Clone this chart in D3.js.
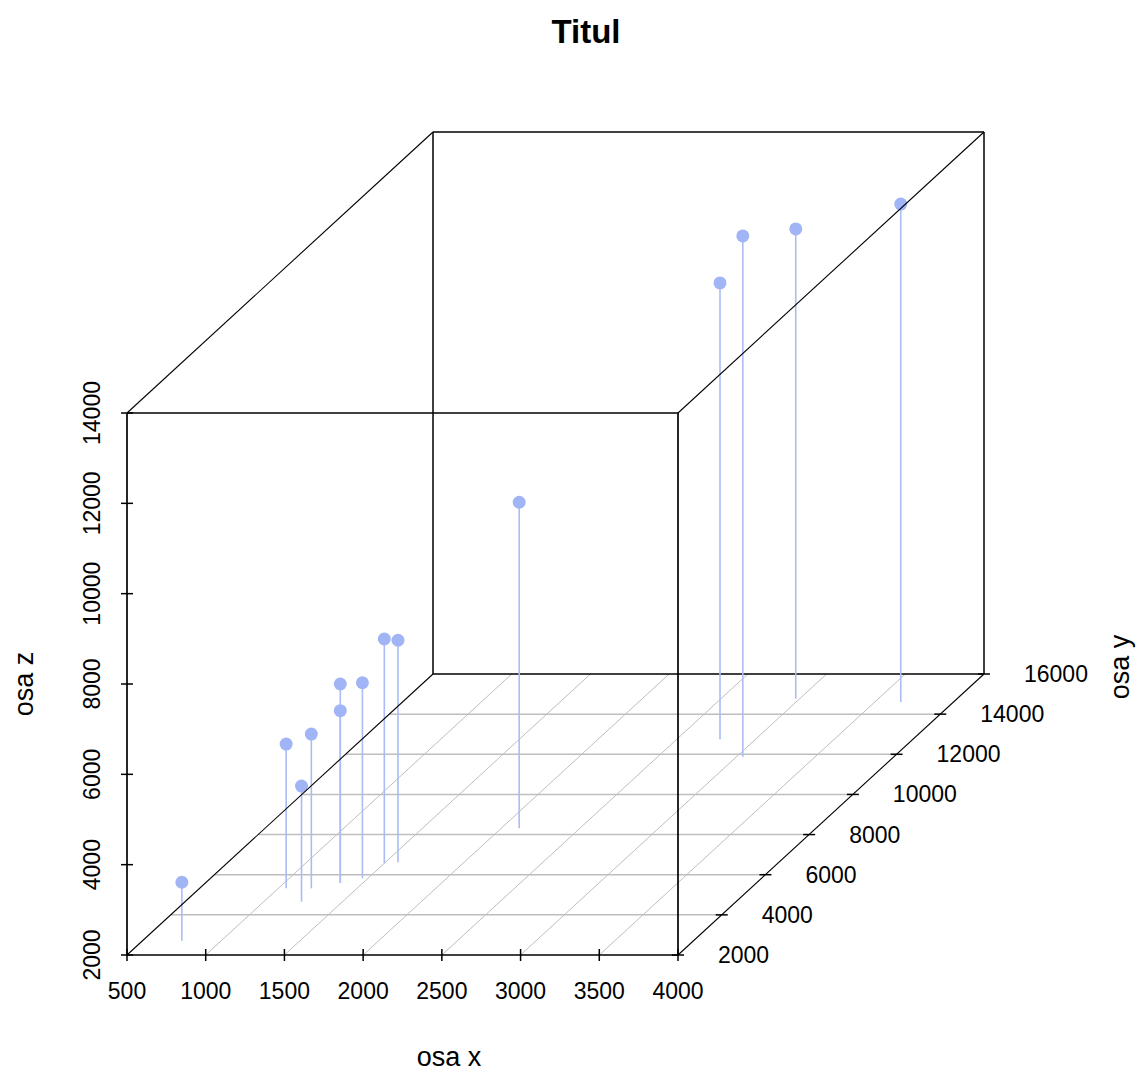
<!DOCTYPE html>
<html>
<head>
<meta charset="utf-8">
<script src="https://cdn.jsdelivr.net/npm/d3@7"></script>
<style>
  body { margin: 0; background: #fff; }
  text { font-family: "Liberation Sans", Arial, sans-serif; fill: #000; }
</style>
</head>
<body>
<div id="chart"></div>
<script>
// data
const xVals = [750, 1050, 1240, 1210, 1355, 1355, 1465, 1500, 1580, 2115, 2775, 3040, 2975, 3665];
const yVals = [2710, 5320, 4655, 5320, 5600, 5600, 5820, 6570, 6620, 8310, 12745, 11880, 14770, 14605];
const zVals = [3295, 5195, 4560, 5415, 6400, 5810, 6330, 6965, 6915, 9220, 12105, 13530, 12400, 13025];

const xTicks = [500, 1000, 1500, 2000, 2500, 3000, 3500, 4000];
const yTicks = [2000, 4000, 6000, 8000, 10000, 12000, 14000, 16000];
const zTicks = [2000, 4000, 6000, 8000, 10000, 12000, 14000];

const titleText = "Titul";
const xLab = "osa x", yLab = "osa y", zLab = "osa z";

let width = 1136, height = 1073;
let svg = d3.select("#chart").append("svg")
    .attr("width", width)
    .attr("height", height);

// box geometry: front face + depth offset for the y direction
let x = d3.scaleLinear().domain([500, 4000]).range([127, 678]);
let z = d3.scaleLinear().domain([2000, 14000]).range([955, 413]);
let yDx = d3.scaleLinear().domain([2000, 16000]).range([0, 306]);
let yDy = d3.scaleLinear().domain([2000, 16000]).range([0, -281]);

function px(xv, yv) { return x(xv) + yDx(yv); }
function py(yv, zv) { return z(zv) + yDy(yv); }

let x0 = 500, x1 = 4000, y0 = 2000, y1 = 16000, z0 = 2000, z1 = 14000;
let gridCol = "#bebebe";
let ptCol = "#a1b5f6";
let lineCol = "#abbcf5";

// floor grid
let grid = svg.append("g");
grid.selectAll("line.gy")
    .data(yTicks.filter(d => d > y0 && d < y1))
    .enter().append("line")
    .attr("x1", d => px(x0, d)).attr("y1", d => py(d, z0))
    .attr("x2", d => px(x1, d)).attr("y2", d => py(d, z0))
    .attr("stroke", gridCol).attr("stroke-width", 1.5);
grid.selectAll("line.gx")
    .data(xTicks.filter(d => d > x0 && d < x1))
    .enter().append("line")
    .attr("x1", d => px(d, y0)).attr("y1", py(y0, z0))
    .attr("x2", d => px(d, y1)).attr("y2", py(y1, z0))
    .attr("stroke", gridCol).attr("stroke-width", 1);

// back of the box
let corner = (a, b, c) => [px(a, b), py(b, c)];
let backEdges = [
    [corner(x0, y1, z0), corner(x1, y1, z0)],
    [corner(x0, y1, z1), corner(x1, y1, z1)],
    [corner(x0, y1, z0), corner(x0, y1, z1)],
    [corner(x1, y1, z0), corner(x1, y1, z1)]
];
svg.append("g").selectAll("line")
    .data(backEdges)
    .enter().append("line")
    .attr("x1", d => d[0][0]).attr("y1", d => d[0][1])
    .attr("x2", d => d[1][0]).attr("y2", d => d[1][1])
    .attr("stroke", "#000").attr("stroke-width", 1.5);

// drop lines and points
let pts = xVals.map((v, i) => ({x: v, y: yVals[i], z: zVals[i]}));
let marks = svg.append("g");
marks.selectAll("line")
    .data(pts)
    .enter().append("line")
    .attr("x1", d => px(d.x, d.y)).attr("y1", d => py(d.y, z0))
    .attr("x2", d => px(d.x, d.y)).attr("y2", d => py(d.y, d.z))
    .attr("stroke", lineCol).attr("stroke-width", 1.6);
marks.selectAll("circle")
    .data(pts)
    .enter().append("circle")
    .attr("cx", d => px(d.x, d.y))
    .attr("cy", d => py(d.y, d.z))
    .attr("r", 6.5)
    .attr("fill", ptCol);

// front of the box and the depth edges
let frontEdges = [
    [corner(x0, y0, z0), corner(x1, y0, z0)],
    [corner(x0, y0, z1), corner(x1, y0, z1)],
    [corner(x0, y0, z0), corner(x0, y0, z1)],
    [corner(x1, y0, z0), corner(x1, y0, z1)]
];
let depthEdges = [
    [corner(x0, y0, z0), corner(x0, y1, z0)],
    [corner(x1, y0, z0), corner(x1, y1, z0)],
    [corner(x0, y0, z1), corner(x0, y1, z1)],
    [corner(x1, y0, z1), corner(x1, y1, z1)]
];
svg.append("g").selectAll("line")
    .data(frontEdges)
    .enter().append("line")
    .attr("x1", d => d[0][0]).attr("y1", d => d[0][1])
    .attr("x2", d => d[1][0]).attr("y2", d => d[1][1])
    .attr("stroke", "#000").attr("stroke-width", 1.7);
svg.append("g").selectAll("line")
    .data(depthEdges)
    .enter().append("line")
    .attr("x1", d => d[0][0]).attr("y1", d => d[0][1])
    .attr("x2", d => d[1][0]).attr("y2", d => d[1][1])
    .attr("stroke", "#000").attr("stroke-width", 1.1);

// ticks
let tl = 6;
let axes = svg.append("g").attr("stroke", "#000").attr("stroke-width", 1.5);
axes.selectAll("line.tx").data(xTicks).enter().append("line")
    .attr("x1", d => x(d)).attr("x2", d => x(d))
    .attr("y1", z(z0) - tl).attr("y2", z(z0) + tl);
axes.selectAll("line.tz").data(zTicks).enter().append("line")
    .attr("x1", x(x0) - tl).attr("x2", x(x0) + tl)
    .attr("y1", d => z(d)).attr("y2", d => z(d));
axes.selectAll("line.ty").data(yTicks).enter().append("line")
    .attr("x1", d => px(x1, d) - tl).attr("x2", d => px(x1, d) + tl)
    .attr("y1", d => py(d, z0)).attr("y2", d => py(d, z0));

// tick labels
let tickFont = "23px";
svg.append("g").selectAll("text").data(xTicks).enter().append("text")
    .attr("x", d => x(d)).attr("y", 999)
    .attr("text-anchor", "middle")
    .style("font-size", tickFont)
    .text(d => d);
svg.append("g").selectAll("text").data(zTicks).enter().append("text")
    .attr("transform", d => "translate(100," + z(d) + ") rotate(-90)")
    .attr("text-anchor", "middle")
    .style("font-size", tickFont)
    .text(d => d);
svg.append("g").selectAll("text").data(yTicks).enter().append("text")
    .attr("x", d => px(x1, d) + 40).attr("y", d => py(d, z0) + 8)
    .attr("text-anchor", "start")
    .style("font-size", tickFont)
    .text(d => d);

// axis titles
svg.append("text")
    .attr("x", 449).attr("y", 1066)
    .attr("text-anchor", "middle")
    .style("font-size", "27px")
    .text(xLab);
svg.append("text")
    .attr("transform", "translate(33,684) rotate(-90)")
    .attr("text-anchor", "middle")
    .style("font-size", "27px")
    .text(zLab);
svg.append("text")
    .attr("transform", "translate(1129,667) rotate(-90)")
    .attr("text-anchor", "middle")
    .style("font-size", "27px")
    .text(yLab);

// title
svg.append("text")
    .attr("x", 586).attr("y", 43)
    .attr("text-anchor", "middle")
    .style("font-size", "33px")
    .style("font-weight", "bold")
    .text(titleText);
</script>
</body>
</html>
